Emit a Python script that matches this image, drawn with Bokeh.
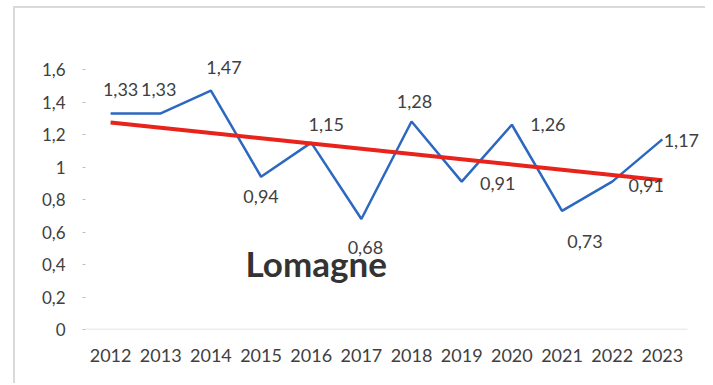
import numpy as np
from bokeh.plotting import figure
from bokeh.models import ColumnDataSource, Range1d, FixedTicker, CustomJSTickFormatter, Label, LabelSet
from bokeh.core.properties import value
from bokeh.embed import file_html
from bokeh.resources import INLINE

# ---- data ----
years = ["2012", "2013", "2014", "2015", "2016", "2017", "2018", "2019", "2020", "2021", "2022", "2023"]
values = [1.33, 1.33, 1.47, 0.94, 1.15, 0.68, 1.28, 0.91, 1.26, 0.73, 0.91, 1.17]
y_ticks = [0, 0.2, 0.4, 0.6, 0.8, 1.0, 1.2, 1.4, 1.6]
title_text = "Lomagne"

# ---- label placement (style, pixels; +dy = upward) ----
label_dx = [10, -2, 13, 0, 15, 4, 3, 36, 36, 23, 34, 19]
label_dy = [24, 24, 23, -20, 18, -28, 20, -2, 0, -31, -4, -1]

n = len(years)
idx = np.arange(n)
# linear trend (least squares on the series)
slope, intercept = np.polyfit(idx, values, 1)
trend = list(intercept + slope * idx)

src = ColumnDataSource(dict(
    x=list(idx), v=values, trend=trend,
    lab=[f"{v:.2f}".replace(".", ",") for v in values],
    dx=label_dx, dy=label_dy,
))

FONT = "Lato"
TXT = "#404040"

p = figure(
    width=692, height=377,
    x_range=Range1d(-0.5, n - 0.1),
    y_range=Range1d(0, 1.84),
    output_backend="svg", toolbar_location=None,
    min_border_left=70, min_border_right=0, min_border_top=22, min_border_bottom=56,
)
p.styles = {"margin-left": "13px", "margin-top": "6px",
            "border-left": "2px solid #d9d9d9", "border-top": "2px solid #d9d9d9"}

p.outline_line_color = None
p.grid.grid_line_color = None
p.background_fill_color = "white"
p.border_fill_color = "white"

# y axis
p.yaxis.ticker = FixedTicker(ticks=y_ticks)
p.yaxis.formatter = CustomJSTickFormatter(code="""
    const s = (Math.round(tick*10)/10).toString();
    return s.replace('.', ',');
""")
p.yaxis.axis_line_color = None
p.yaxis.major_tick_line_color = "#bfbfbf"
p.yaxis.major_tick_out = 3
p.yaxis.major_tick_in = 0
p.yaxis.minor_tick_line_color = None
p.yaxis.major_label_standoff = 17
p.yaxis.major_label_text_font = FONT
p.yaxis.major_label_text_font_size = "17px"
p.yaxis.major_label_text_color = TXT

# x axis (category labels from the years list)
p.xaxis.ticker = FixedTicker(ticks=list(range(n)))
p.xaxis.formatter = CustomJSTickFormatter(args=dict(years=years), code="""
    const i = Math.round(tick);
    return (i >= 0 && i < years.length) ? years[i] : '';
""")
p.xaxis.axis_line_color = None
p.xaxis.major_tick_line_color = None
p.xaxis.minor_tick_line_color = None
p.xaxis.major_label_standoff = 13
p.xaxis.major_label_text_font = FONT
p.xaxis.major_label_text_font_size = "18px"
p.xaxis.major_label_text_color = TXT

# category-axis baseline spanning the category slots
p.segment(x0=[-0.5], y0=[0], x1=[n - 0.5], y1=[0], line_color="#d9d9d9", line_width=1.5)

# series
p.line("x", "v", source=src, line_color="#2d68c0", line_width=2.5)
p.line("x", "trend", source=src, line_color="#e8231b", line_width=4)

p.add_layout(LabelSet(x="x", y="v", text="lab", source=src,
                      x_offset="dx", y_offset="dy",
                      text_align="center", text_baseline="middle",
                      text_font=value(FONT), text_font_size=value("18px"),
                      text_color=value(TXT)))

p.add_layout(Label(x=160, y=67, x_units="screen", y_units="screen", text=title_text,
                   text_font=FONT, text_font_size="35px", text_font_style="bold",
                   text_color="#333333", text_baseline="alphabetic"))

open("out.html", "w").write(file_html(p, INLINE))
